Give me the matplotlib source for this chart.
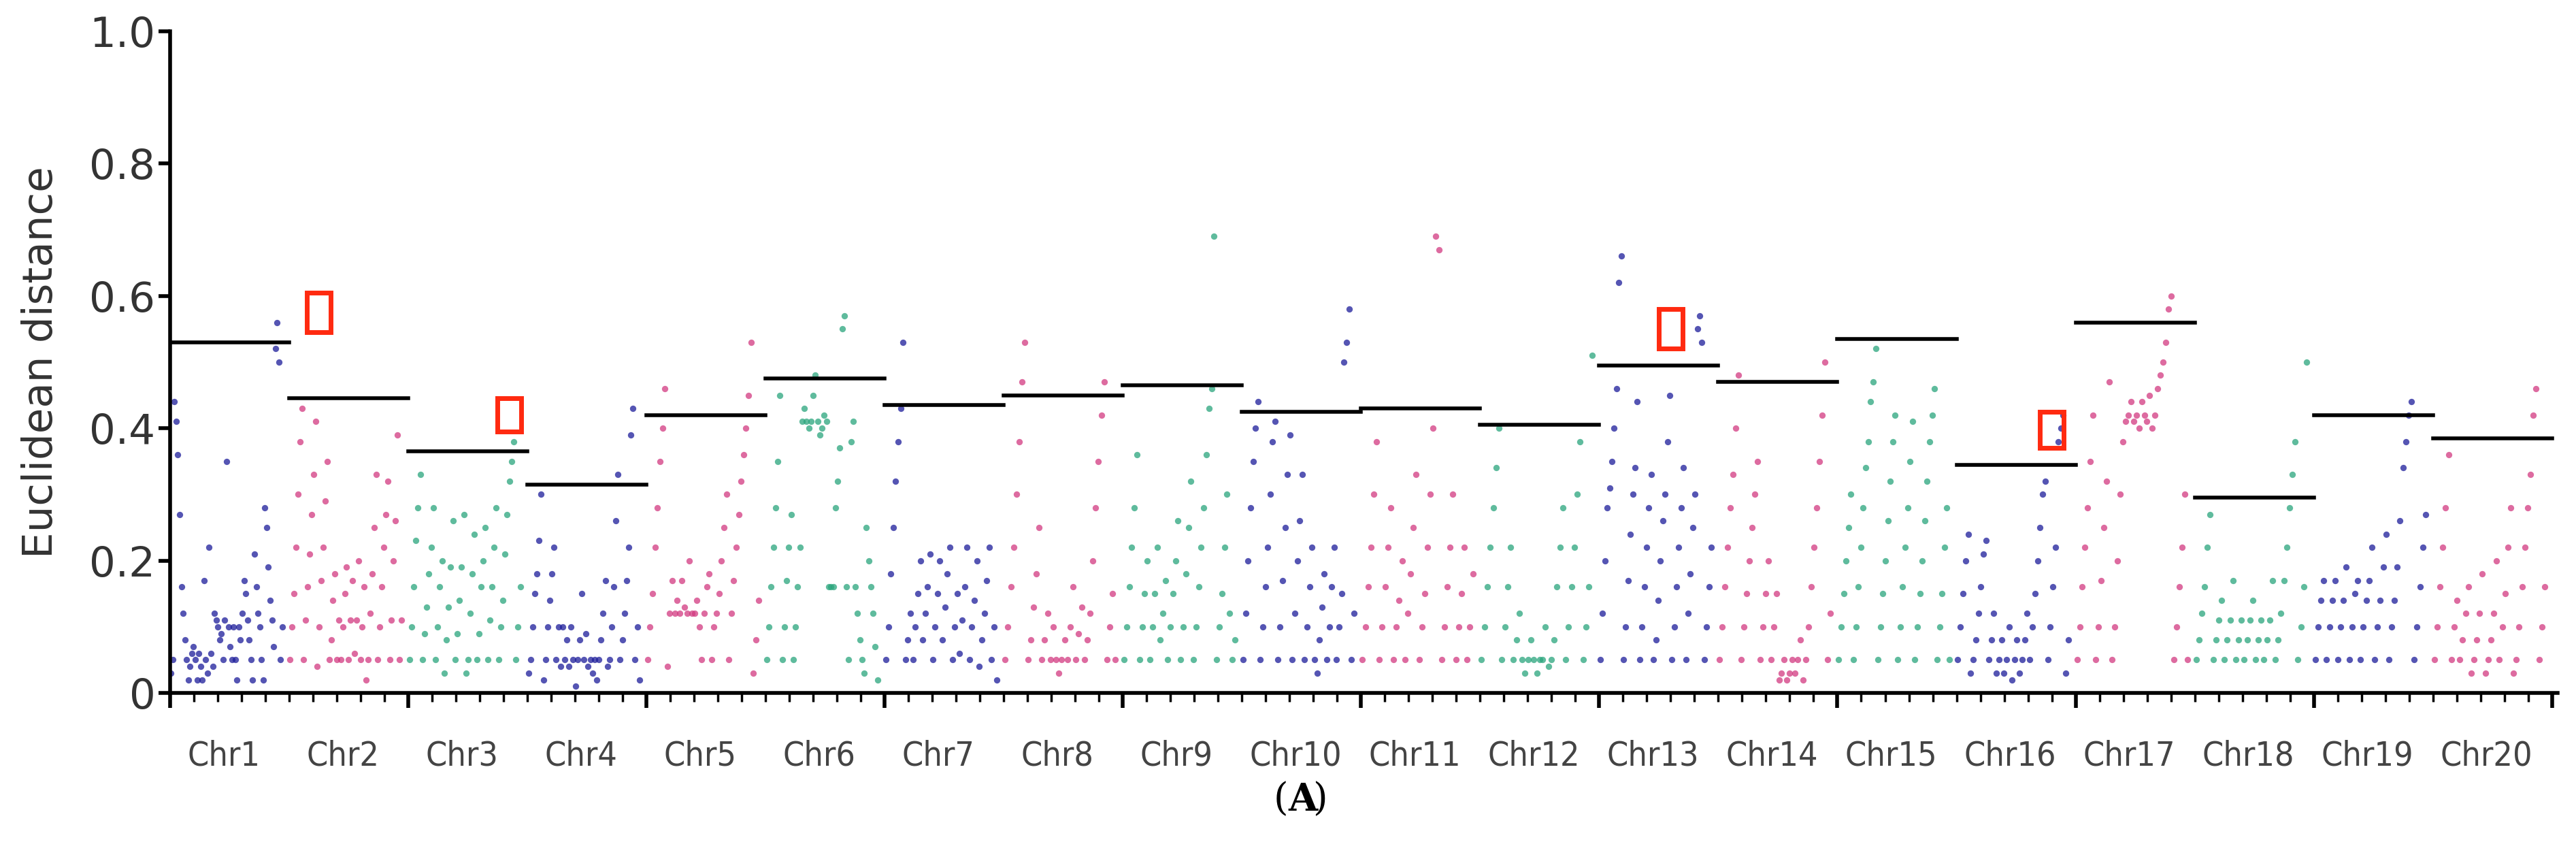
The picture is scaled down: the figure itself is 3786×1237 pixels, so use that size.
import matplotlib
matplotlib.use("Agg")
import matplotlib.pyplot as plt
from matplotlib.patches import Rectangle
from matplotlib.ticker import MultipleLocator
import numpy as np

chroms = [f"Chr{i}" for i in range(1, 21)]
thresholds = [0.53, 0.445, 0.365, 0.315, 0.42, 0.475, 0.435, 0.45, 0.465, 0.425,
              0.43, 0.405, 0.495, 0.47, 0.535, 0.345, 0.56, 0.295, 0.42, 0.385]

vals = {
 "Chr1": [0.03,0.05,0.44,0.41,0.36,0.27,0.16,0.12,0.08,0.05,0.02,0.04,0.06,0.07,0.05,0.02,0.06,0.04,0.02,0.17,0.05,0.03,0.22,0.06,0.04,0.12,0.11,0.10,0.08,0.09,0.05,0.11,0.35,0.10,0.07,0.05,0.10,0.05,0.02,0.10,0.08,0.12,0.17,0.15,0.11,0.08,0.05,0.02,0.21,0.16,0.12,0.10,0.05,0.02,0.28,0.25,0.19,0.14,0.11,0.07,0.52,0.56,0.50,0.05,0.10],
 "Chr2": [0.05,0.10,0.15,0.22,0.30,0.38,0.43,0.05,0.11,0.16,0.21,0.27,0.33,0.41,0.04,0.10,0.17,0.22,0.29,0.35,0.05,0.08,0.14,0.18,0.05,0.11,0.05,0.10,0.15,0.19,0.05,0.11,0.17,0.06,0.11,0.20,0.05,0.10,0.16,0.02,0.05,0.12,0.18,0.25,0.33,0.05,0.10,0.16,0.22,0.27,0.32,0.05,0.11,0.20,0.26,0.39,0.05,0.11],
 "Chr3": [0.05,0.10,0.16,0.23,0.28,0.33,0.05,0.09,0.13,0.18,0.22,0.28,0.05,0.10,0.16,0.20,0.03,0.08,0.13,0.19,0.26,0.05,0.09,0.14,0.19,0.27,0.03,0.05,0.12,0.18,0.24,0.05,0.09,0.16,0.20,0.25,0.05,0.11,0.16,0.22,0.28,0.05,0.10,0.14,0.21,0.27,0.32,0.35,0.38,0.05,0.10,0.16],
 "Chr4": [0.03,0.05,0.10,0.15,0.18,0.23,0.30,0.02,0.05,0.10,0.14,0.18,0.22,0.05,0.10,0.04,0.10,0.05,0.08,0.04,0.10,0.05,0.01,0.05,0.08,0.15,0.05,0.09,0.04,0.05,0.03,0.05,0.02,0.05,0.08,0.12,0.17,0.04,0.05,0.10,0.16,0.26,0.33,0.05,0.08,0.12,0.17,0.22,0.39,0.43,0.05,0.10,0.02],
 "Chr5": [0.05,0.10,0.15,0.22,0.28,0.35,0.40,0.46,0.04,0.12,0.17,0.12,0.14,0.12,0.17,0.13,0.12,0.20,0.12,0.12,0.14,0.10,0.05,0.12,0.16,0.18,0.05,0.10,0.12,0.15,0.20,0.25,0.30,0.05,0.12,0.17,0.22,0.27,0.32,0.36,0.40,0.45,0.53,0.03,0.08,0.14],
 "Chr6": [0.05,0.10,0.16,0.22,0.28,0.35,0.45,0.05,0.10,0.17,0.22,0.27,0.05,0.10,0.16,0.22,0.41,0.43,0.41,0.40,0.41,0.45,0.48,0.41,0.39,0.40,0.42,0.41,0.16,0.16,0.16,0.28,0.32,0.37,0.55,0.57,0.16,0.05,0.38,0.41,0.16,0.12,0.08,0.05,0.03,0.25,0.20,0.16,0.12,0.07,0.02],
 "Chr7": [0.05,0.10,0.18,0.25,0.32,0.38,0.43,0.53,0.05,0.08,0.12,0.05,0.10,0.15,0.20,0.08,0.12,0.16,0.21,0.05,0.10,0.15,0.20,0.08,0.13,0.18,0.22,0.05,0.10,0.15,0.06,0.11,0.16,0.22,0.05,0.10,0.14,0.20,0.04,0.08,0.12,0.17,0.22,0.05,0.10,0.02],
 "Chr8": [0.05,0.10,0.16,0.22,0.30,0.38,0.47,0.53,0.05,0.08,0.13,0.18,0.25,0.05,0.08,0.12,0.05,0.10,0.05,0.03,0.05,0.08,0.05,0.10,0.16,0.05,0.09,0.13,0.05,0.08,0.12,0.20,0.28,0.35,0.42,0.47,0.05,0.10,0.15,0.05],
 "Chr9": [0.05,0.10,0.16,0.22,0.28,0.36,0.05,0.10,0.15,0.20,0.05,0.10,0.15,0.22,0.08,0.12,0.17,0.05,0.10,0.15,0.20,0.26,0.05,0.10,0.18,0.25,0.32,0.05,0.10,0.16,0.22,0.28,0.36,0.43,0.46,0.69,0.05,0.10,0.15,0.22,0.30,0.12,0.05,0.08],
 "Chr10": [0.05,0.12,0.20,0.28,0.35,0.40,0.44,0.05,0.10,0.16,0.22,0.30,0.38,0.41,0.05,0.10,0.17,0.25,0.33,0.39,0.05,0.12,0.20,0.26,0.33,0.05,0.10,0.16,0.22,0.05,0.03,0.08,0.13,0.18,0.05,0.10,0.16,0.22,0.05,0.10,0.15,0.50,0.53,0.58,0.05,0.12],
 "Chr11": [0.05,0.10,0.16,0.22,0.30,0.38,0.05,0.10,0.16,0.22,0.28,0.05,0.10,0.14,0.20,0.05,0.12,0.18,0.25,0.33,0.05,0.10,0.15,0.22,0.30,0.40,0.69,0.67,0.05,0.10,0.16,0.22,0.30,0.05,0.10,0.15,0.22,0.05,0.10,0.18],
 "Chr12": [0.05,0.10,0.16,0.22,0.28,0.34,0.40,0.05,0.10,0.16,0.22,0.05,0.08,0.12,0.05,0.03,0.05,0.08,0.05,0.03,0.05,0.05,0.10,0.04,0.05,0.08,0.16,0.22,0.28,0.05,0.10,0.16,0.22,0.30,0.38,0.05,0.10,0.16,0.51],
 "Chr13": [0.05,0.12,0.20,0.28,0.31,0.35,0.40,0.46,0.62,0.66,0.05,0.10,0.17,0.24,0.30,0.34,0.44,0.05,0.10,0.16,0.22,0.28,0.33,0.05,0.08,0.14,0.20,0.26,0.30,0.38,0.45,0.05,0.10,0.16,0.22,0.28,0.34,0.05,0.12,0.18,0.25,0.30,0.55,0.57,0.53,0.05,0.10,0.16,0.22],
 "Chr14": [0.05,0.10,0.16,0.22,0.28,0.33,0.40,0.48,0.05,0.10,0.15,0.20,0.25,0.30,0.35,0.05,0.10,0.15,0.20,0.05,0.10,0.15,0.02,0.03,0.05,0.02,0.03,0.05,0.03,0.05,0.08,0.02,0.05,0.10,0.16,0.22,0.28,0.35,0.42,0.50,0.05,0.12],
 "Chr15": [0.05,0.10,0.15,0.20,0.25,0.30,0.05,0.10,0.16,0.22,0.28,0.34,0.38,0.44,0.47,0.52,0.05,0.10,0.15,0.20,0.26,0.32,0.38,0.42,0.05,0.10,0.16,0.22,0.28,0.35,0.41,0.05,0.10,0.15,0.20,0.26,0.32,0.38,0.42,0.46,0.05,0.10,0.15,0.22,0.28,0.05],
 "Chr16": [0.05,0.10,0.15,0.20,0.24,0.03,0.05,0.08,0.12,0.16,0.21,0.23,0.05,0.08,0.12,0.03,0.05,0.08,0.03,0.05,0.10,0.02,0.05,0.08,0.03,0.05,0.08,0.12,0.05,0.10,0.15,0.20,0.25,0.30,0.32,0.05,0.10,0.16,0.22,0.38,0.40,0.42,0.03,0.08],
 "Chr17": [0.05,0.10,0.16,0.22,0.28,0.35,0.42,0.05,0.10,0.17,0.25,0.32,0.47,0.05,0.10,0.20,0.30,0.38,0.41,0.42,0.44,0.41,0.42,0.40,0.44,0.42,0.41,0.45,0.40,0.42,0.46,0.48,0.50,0.53,0.58,0.60,0.05,0.10,0.16,0.22,0.30,0.05],
 "Chr18": [0.05,0.08,0.12,0.16,0.22,0.27,0.05,0.08,0.11,0.14,0.05,0.08,0.11,0.17,0.05,0.08,0.11,0.05,0.08,0.11,0.14,0.05,0.08,0.11,0.05,0.08,0.11,0.17,0.05,0.08,0.12,0.17,0.22,0.28,0.33,0.38,0.05,0.10,0.16,0.50],
 "Chr19": [0.05,0.10,0.14,0.17,0.05,0.10,0.14,0.17,0.05,0.10,0.14,0.19,0.05,0.10,0.15,0.17,0.05,0.10,0.14,0.17,0.22,0.05,0.10,0.14,0.19,0.24,0.05,0.10,0.14,0.19,0.26,0.34,0.38,0.42,0.44,0.05,0.10,0.16,0.22,0.27],
 "Chr20": [0.05,0.10,0.16,0.22,0.28,0.36,0.05,0.10,0.14,0.05,0.08,0.12,0.16,0.03,0.05,0.08,0.12,0.18,0.03,0.05,0.08,0.12,0.20,0.05,0.10,0.15,0.22,0.28,0.03,0.05,0.10,0.16,0.22,0.28,0.33,0.42,0.46,0.05,0.10,0.16],
}
palette = ["#1c1c9a", "#d23a80", "#2aa57c"]
# red highlight boxes: (chromosome index, x fraction inside chromosome, y low, y high)
boxes = [(1, 0.25, 0.545, 0.605), (2, 0.85, 0.395, 0.445), (12, 0.6, 0.52, 0.58), (15, 0.8, 0.37, 0.425)]

fig = plt.figure(figsize=(37.86, 12.37), dpi=100)
ax = fig.add_axes([0.066, 0.177, 0.927, 0.786])

for i, c in enumerate(chroms):
    v = vals[c]
    x = i + (np.arange(len(v)) + 0.5) / len(v) * 0.95
    ax.scatter(x, v, s=45, color=palette[i % 3], alpha=0.75, linewidths=0, zorder=2)
    ax.plot([i, i + 1.0], [thresholds[i]] * 2, color="black", lw=4, zorder=3)

for ci, fx, lo, hi in boxes:
    ax.add_patch(Rectangle((ci + fx - 0.1, lo), 0.2, hi - lo, fill=False,
                           edgecolor="#ff2a10", lw=5, zorder=4))

ax.set_xlim(0, 20.05)
ax.set_ylim(0, 1.0)
for s in ["top", "right"]:
    ax.spines[s].set_visible(False)
ax.spines["left"].set_linewidth(4)
ax.spines["bottom"].set_linewidth(4)
ax.set_yticks([0, 0.2, 0.4, 0.6, 0.8, 1.0])
ax.set_yticklabels(["0", "0.2", "0.4", "0.6", "0.8", "1.0"], fontsize=44, color="#333333")
ax.tick_params(axis="y", length=12, width=4)
ax.set_xticks(np.arange(0, 21, 2))
ax.set_xticklabels([])
ax.xaxis.set_minor_locator(MultipleLocator(0.2))
ax.tick_params(axis="x", which="major", length=16, width=4, direction="out")
ax.tick_params(axis="x", which="minor", length=9, width=2.5, direction="out")
for i, c in enumerate(chroms):
    ax.text(i + 0.45, -0.07, c, ha="center", va="top", fontsize=36,
            color="#444444", fontstretch="condensed", transform=ax.transData)
ax.set_ylabel("Euclidean distance", fontsize=44, color="#333333", labelpad=30)
fig.text(0.5, 0.05, "(", ha="right", va="center", fontsize=40, family="DejaVu Serif")
fig.text(0.5, 0.05, "A", ha="left", va="center", fontsize=40, family="DejaVu Serif", fontweight="bold")
fig.text(0.5 + 0.0095, 0.05, ")", ha="left", va="center", fontsize=40, family="DejaVu Serif")
fig.savefig("out.png", dpi=100)
